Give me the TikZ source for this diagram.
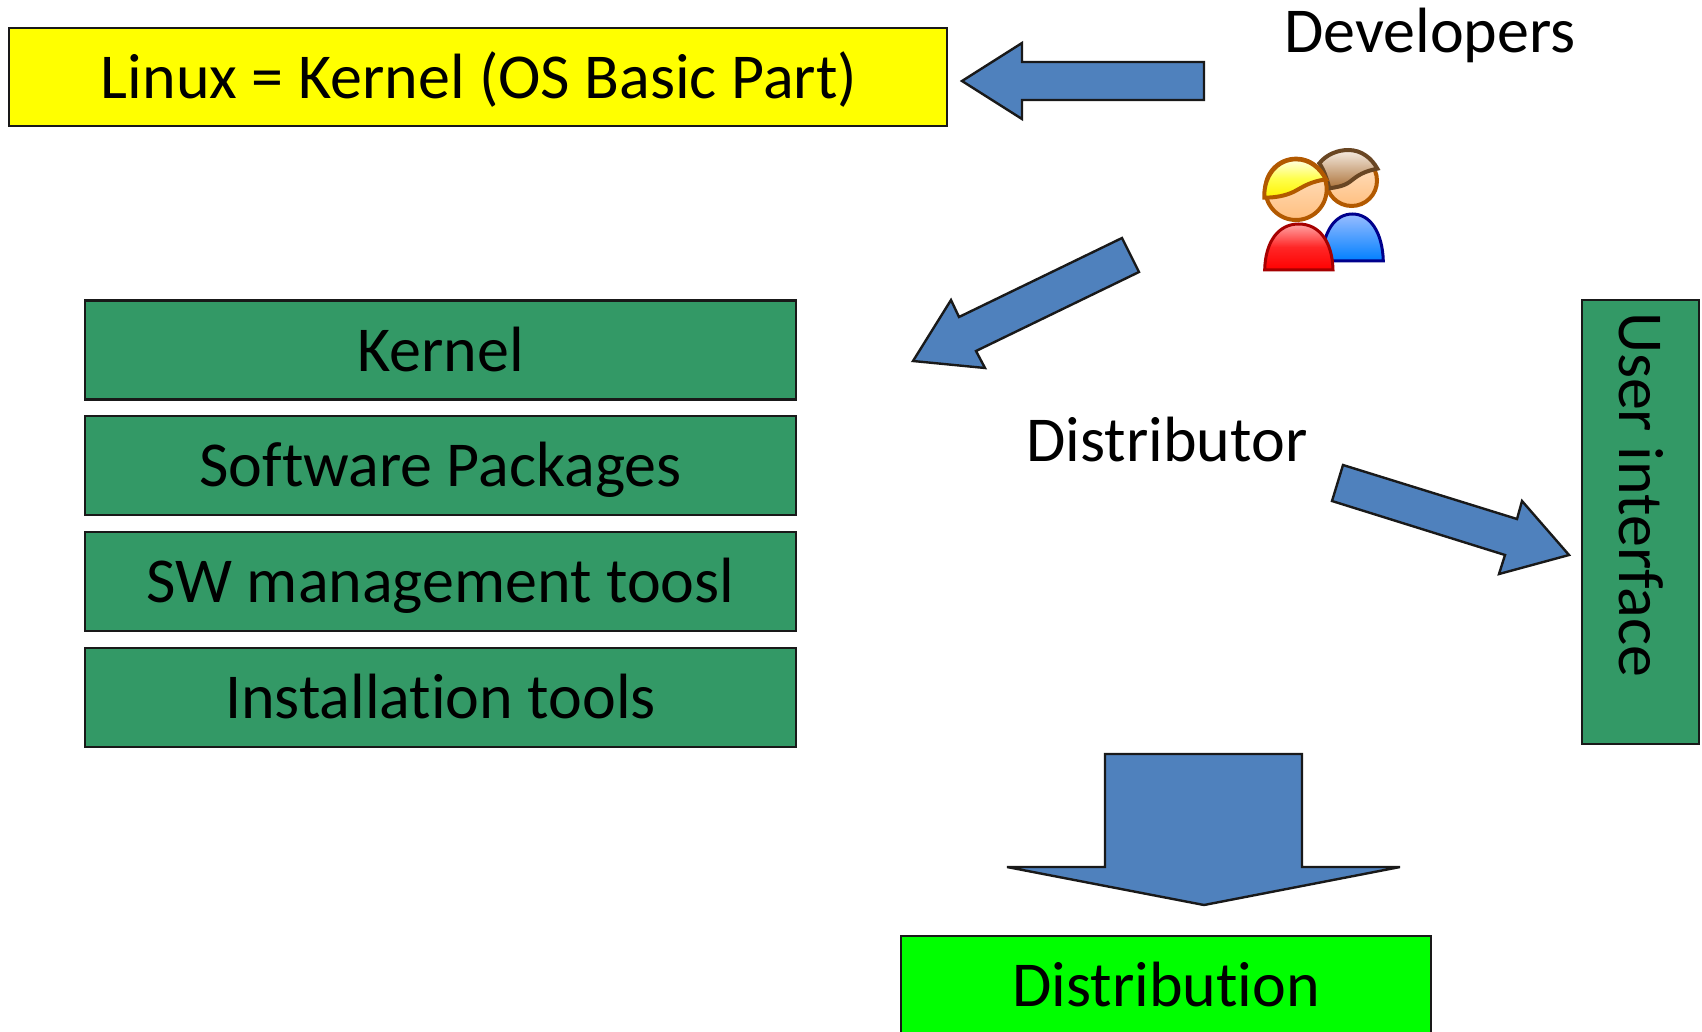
\documentclass[tikz,border=0pt]{standalone}
\usepackage{fontspec}
\setmainfont[Ligatures={NoCommon,NoContextual}]{Carlito}
\definecolor{boxgreen}{HTML}{339966}
\definecolor{arrowblue}{HTML}{4F81BD}
\definecolor{boxyellow}{HTML}{FFFF00}
\definecolor{boxlime}{HTML}{00FF00}
\tikzset{
  every node/.style={font=\fontsize{64}{68}\selectfont, text=black},
  box/.style={draw=black!90, line width=2.6pt, inner sep=0pt, outer sep=0pt, text height=42pt, text depth=0pt},
  greenbox/.style={box, fill=boxgreen, minimum width=711pt, minimum height=99pt},
  blockarrow/.style={draw=black!90, line width=2.4pt, fill=arrowblue, miter limit=10},
  plain/.style={inner sep=0pt, outer sep=0pt, text height=42pt, text depth=0pt},
  skin/.style={draw=orange!70!black, line width=4pt, top color=orange!20!white, bottom color=orange!50!white},
}
\begin{document}
\begin{tikzpicture}[x=1pt,y=-1pt]
\clip (0,0) rectangle (1702,1031);
\fill[white] (0,0) rectangle (1702,1031);
\node[box, fill=boxyellow, minimum width=938pt, minimum height=98pt] (linux) at (478,77) {\hspace{2pt}Linux = Kernel (OS Basic Part)};
\node[greenbox] (kernel) at (440.5,350) {Kernel};
\node[greenbox] (packages) at (440.5,465.5) {Software Packages};
\node[greenbox] (swtools) at (440.5,581.5) {SW management toosl};
\node[greenbox] (install) at (440.5,697.5) {Installation tools};
\node[box, fill=boxgreen, rotate=-90, minimum width=444pt, minimum height=117pt] (ui) at (1640.5,522) {\makebox[420pt][l]{User interface}};
\node[box, fill=boxlime, minimum width=530pt, minimum height=140pt, text height=20pt, text depth=20pt] (distribution) at (1166,1006) {Distribution};
\node[plain] (developers) at (1430,31) {Developers};
\node[plain] (distributor) at (1167,440) {Distributor};
% block arrows
\draw[blockarrow] (962,81) -- (1022,43) -- (1022,62) -- (1204,62) -- (1204,100) -- (1022,100) -- (1022,119) -- cycle;
\draw[blockarrow] (913,361) -- (951,300) -- (959,317) -- (1122,238) -- (1139,272) -- (976,351) -- (985,368) -- cycle;
\draw[blockarrow] (1569,555) -- (1522,501) -- (1517,519) -- (1343,465) -- (1332,501) -- (1505,555) -- (1499,574) -- cycle;
\draw[blockarrow] (1105,754) -- (1302,754) -- (1302,867) -- (1400,867) -- (1204,905) -- (1007,867) -- (1105,867) -- cycle;
% developers icon
\begin{scope}[shift={(1220,130)}, x=0.3333pt, y=-0.3333pt]
  % blue body
  \draw[draw=blue!55!black, line width=3pt, top color=cyan!35!blue!40!white, bottom color=blue!50!cyan] (305,393) .. controls (308,305) and (345,252) .. (397,252) .. controls (450,252) and (487,305) .. (490,393) -- cycle;
  % back head
  \draw[skin] (395,152) circle (76);
  \draw[draw=brown!55!black, line width=4pt, top color=brown!15!white, bottom color=brown!90!black] (298,100) .. controls (320,72) and (355,60) .. (385,60) .. controls (425,60) and (455,85) .. (472,116) .. controls (430,125) and (415,135) .. (390,155) .. controls (370,170) and (345,172) .. (328,175) .. controls (322,150) and (312,120) .. (298,100) -- cycle;
  % red body
  \draw[draw=red!65!black, line width=3pt, top color=red!35!white, bottom color=red, middle color=red!85!white] (134,420) .. controls (136,335) and (175,282) .. (236,282) .. controls (298,282) and (337,335) .. (339,420) -- cycle;
  % front head
  \draw[skin] (228,178) circle (92);
  \draw[draw=orange!70!black, line width=4pt, top color=yellow!10!white, bottom color=yellow!90!orange, middle color=yellow!70!white] (133,203) .. controls (130,140) and (170,88) .. (228,88) .. controls (270,88) and (300,115) .. (318,148) .. controls (270,155) and (250,170) .. (222,185) .. controls (195,198) and (165,203) .. (133,203) -- cycle;
\end{scope}
\end{tikzpicture}
\end{document}
